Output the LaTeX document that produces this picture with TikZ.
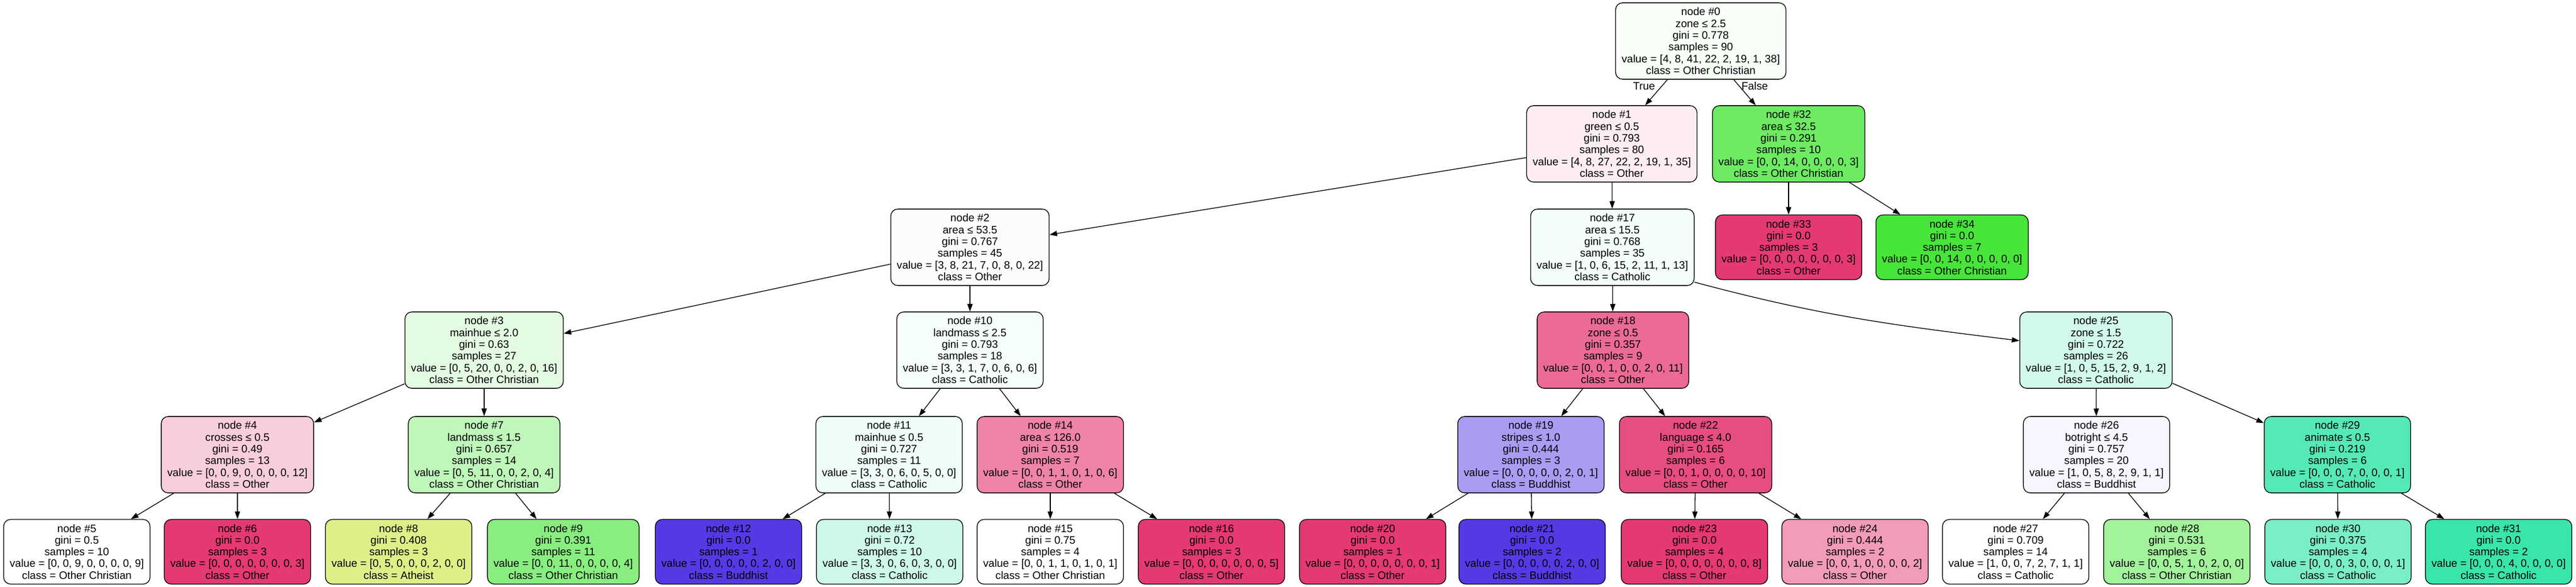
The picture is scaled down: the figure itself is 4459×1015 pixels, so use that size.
\documentclass[tikz,border=0pt]{standalone}
\usepackage{fontspec}
\setmainfont{Liberation Sans}
\usetikzlibrary{arrows.meta}

\definecolor{other}{HTML}{E53972}
\definecolor{christian}{HTML}{47E539}
\definecolor{catholic}{HTML}{39E5AC}
\definecolor{buddhist}{HTML}{5639E5}
\definecolor{atheist}{HTML}{C8E539}

\begin{document}
\begin{tikzpicture}[x=1pt,y=-1pt,->,>={Triangle[length=13pt,width=9pt]},
                line width=1.3pt,font=\fontsize{18.7}{20.3}\selectfont,
                tree node/.style={rectangle,draw,rounded corners=12pt,align=center,
                                  inner xsep=10.5pt,inner ysep=8.5pt}]
  \useasboundingbox (0,0) rectangle (4459,1015);

  \node[tree node,fill=christian!3] (0) at (2944,71) {node \#0\\zone ≤ 2.5\\gini = 0.778\\samples = 90\\value = [4, 8, 41, 22, 2, 19, 1, 38]\\class = Other Christian};

  \node[tree node,fill=other!9] (1) at (2790,249) {node \#1\\green ≤ 0.5\\gini = 0.793\\samples = 80\\value = [4, 8, 27, 22, 2, 19, 1, 35]\\class = Other};
  \node[tree node,fill=christian!79] (32) at (3096,249) {node \#32\\area ≤ 32.5\\gini = 0.291\\samples = 10\\value = [0, 0, 14, 0, 0, 0, 0, 3]\\class = Other Christian};

  \node[tree node,fill=other!2] (2) at (1679,428) {node \#2\\area ≤ 53.5\\gini = 0.767\\samples = 45\\value = [3, 8, 21, 7, 0, 8, 0, 22]\\class = Other};
  \node[tree node,fill=catholic!6] (17) at (2791,428) {node \#17\\area ≤ 15.5\\gini = 0.768\\samples = 35\\value = [1, 0, 6, 15, 2, 11, 1, 13]\\class = Catholic};
  \node[tree node,fill=other] (33) at (3096,428) {node \#33\\gini = 0.0\\samples = 3\\value = [0, 0, 0, 0, 0, 0, 0, 3]\\class = Other};
  \node[tree node,fill=christian] (34) at (3379,428) {node \#34\\gini = 0.0\\samples = 7\\value = [0, 0, 14, 0, 0, 0, 0, 0]\\class = Other Christian};

  \node[tree node,fill=christian!15] (3) at (838,606) {node \#3\\mainhue ≤ 2.0\\gini = 0.63\\samples = 27\\value = [0, 5, 20, 0, 0, 2, 0, 16]\\class = Other Christian};
  \node[tree node,fill=catholic!5] (10) at (1679,606) {node \#10\\landmass ≤ 2.5\\gini = 0.793\\samples = 18\\value = [3, 3, 1, 7, 0, 6, 0, 6]\\class = Catholic};
  \node[tree node,fill=other!75] (18) at (2792,606) {node \#18\\zone ≤ 0.5\\gini = 0.357\\samples = 9\\value = [0, 0, 1, 0, 0, 2, 0, 11]\\class = Other};
  \node[tree node,fill=catholic!23] (25) at (3628,606) {node \#25\\zone ≤ 1.5\\gini = 0.722\\samples = 26\\value = [1, 0, 5, 15, 2, 9, 1, 2]\\class = Catholic};

  \node[tree node,fill=other!25] (4) at (411,787) {node \#4\\crosses ≤ 0.5\\gini = 0.49\\samples = 13\\value = [0, 0, 9, 0, 0, 0, 0, 12]\\class = Other};
  \node[tree node,fill=christian!35] (7) at (838,787) {node \#7\\landmass ≤ 1.5\\gini = 0.657\\samples = 14\\value = [0, 5, 11, 0, 0, 2, 0, 4]\\class = Other Christian};
  \node[tree node,fill=catholic!8] (11) at (1539,787) {node \#11\\mainhue ≤ 0.5\\gini = 0.727\\samples = 11\\value = [3, 3, 0, 6, 0, 5, 0, 0]\\class = Catholic};
  \node[tree node,fill=other!62] (14) at (1818,787) {node \#14\\area ≤ 126.0\\gini = 0.519\\samples = 7\\value = [0, 0, 1, 1, 0, 1, 0, 6]\\class = Other};
  \node[tree node,fill=buddhist!50] (19) at (2650,787) {node \#19\\stripes ≤ 1.0\\gini = 0.444\\samples = 3\\value = [0, 0, 0, 0, 0, 2, 0, 1]\\class = Buddhist};
  \node[tree node,fill=other!90] (22) at (2935,787) {node \#22\\language ≤ 4.0\\gini = 0.165\\samples = 6\\value = [0, 0, 1, 0, 0, 0, 0, 10]\\class = Other};
  \node[tree node,fill=buddhist!5] (26) at (3629,787) {node \#26\\botright ≤ 4.5\\gini = 0.757\\samples = 20\\value = [1, 0, 5, 8, 2, 9, 1, 1]\\class = Buddhist};
  \node[tree node,fill=catholic!86] (29) at (4046,787) {node \#29\\animate ≤ 0.5\\gini = 0.219\\samples = 6\\value = [0, 0, 0, 7, 0, 0, 0, 1]\\class = Catholic};

  \node[tree node,fill=white] (5) at (133,955) {node \#5\\gini = 0.5\\samples = 10\\value = [0, 0, 9, 0, 0, 0, 0, 9]\\class = Other Christian};
  \node[tree node,fill=other] (6) at (411,955) {node \#6\\gini = 0.0\\samples = 3\\value = [0, 0, 0, 0, 0, 0, 0, 3]\\class = Other};
  \node[tree node,fill=atheist!60] (8) at (690,955) {node \#8\\gini = 0.408\\samples = 3\\value = [0, 5, 0, 0, 0, 2, 0, 0]\\class = Atheist};
  \node[tree node,fill=christian!64] (9) at (975,955) {node \#9\\gini = 0.391\\samples = 11\\value = [0, 0, 11, 0, 0, 0, 0, 4]\\class = Other Christian};
  \node[tree node,fill=buddhist] (12) at (1261,955) {node \#12\\gini = 0.0\\samples = 1\\value = [0, 0, 0, 0, 0, 2, 0, 0]\\class = Buddhist};
  \node[tree node,fill=catholic!25] (13) at (1540,955) {node \#13\\gini = 0.72\\samples = 10\\value = [3, 3, 0, 6, 0, 3, 0, 0]\\class = Catholic};
  \node[tree node,fill=white] (15) at (1818,955) {node \#15\\gini = 0.75\\samples = 4\\value = [0, 0, 1, 1, 0, 1, 0, 1]\\class = Other Christian};
  \node[tree node,fill=other] (16) at (2097,955) {node \#16\\gini = 0.0\\samples = 3\\value = [0, 0, 0, 0, 0, 0, 0, 5]\\class = Other};
  \node[tree node,fill=other] (20) at (2376,955) {node \#20\\gini = 0.0\\samples = 1\\value = [0, 0, 0, 0, 0, 0, 0, 1]\\class = Other};
  \node[tree node,fill=buddhist] (21) at (2652,955) {node \#21\\gini = 0.0\\samples = 2\\value = [0, 0, 0, 0, 0, 2, 0, 0]\\class = Buddhist};
  \node[tree node,fill=other] (23) at (2933,955) {node \#23\\gini = 0.0\\samples = 4\\value = [0, 0, 0, 0, 0, 0, 0, 8]\\class = Other};
  \node[tree node,fill=other!50] (24) at (3211,955) {node \#24\\gini = 0.444\\samples = 2\\value = [0, 0, 1, 0, 0, 0, 0, 2]\\class = Other};
  \node[tree node,fill=white] (27) at (3489,955) {node \#27\\gini = 0.709\\samples = 14\\value = [1, 0, 0, 7, 2, 7, 1, 1]\\class = Catholic};
  \node[tree node,fill=christian!50] (28) at (3768,955) {node \#28\\gini = 0.531\\samples = 6\\value = [0, 0, 5, 1, 0, 2, 0, 0]\\class = Other Christian};
  \node[tree node,fill=catholic!67] (30) at (4047,955) {node \#30\\gini = 0.375\\samples = 4\\value = [0, 0, 0, 3, 0, 0, 0, 1]\\class = Catholic};
  \node[tree node,fill=catholic] (31) at (4325,955) {node \#31\\gini = 0.0\\samples = 2\\value = [0, 0, 0, 4, 0, 0, 0, 0]\\class = Catholic};

  \path
    (0) edge node[left=8pt,pos=.25] {True} (1)
        edge node[right,pos=.25] {False} (32)
    (1) edge (2)
        edge (17)
    (2) edge (3)
        edge (10)
    (3) edge (4)
        edge (7)
    (4) edge (5)
        edge (6)
    (7) edge (8)
        edge (9)
    (10) edge (11)
         edge (14)
    (11) edge (12)
         edge (13)
    (14) edge (15)
         edge (16)
    (17) edge (18)
    (17.-23) edge[out=-15,in=173] (25.173)
    (18) edge (19)
         edge (22)
    (19) edge (20)
         edge (21)
    (22) edge (23)
         edge (24)
    (25) edge (26)
         edge (29)
    (26) edge (27)
         edge (28)
    (29) edge (30)
         edge (31)
    (32) edge (33)
         edge (34);
\end{tikzpicture}
\end{document}
